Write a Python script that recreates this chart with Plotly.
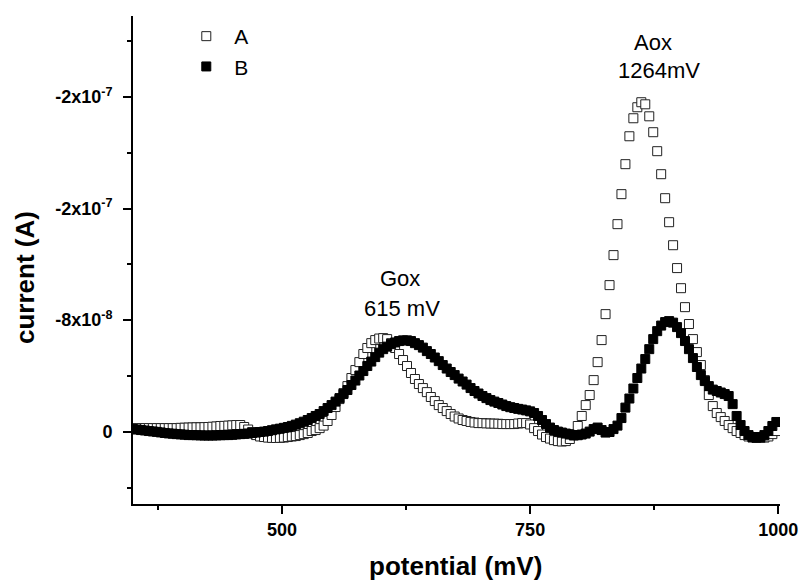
import plotly.graph_objects as go

# ---- data (current in units of 1e-8 A, potential in mV) ----
POT_START, POT_STOP, POT_STEP = 350, 1000, 4
potential_mv = list(range(POT_START, POT_STOP, POT_STEP))

current_a_1e8 = [
    -0.26, -0.26, -0.26, -0.26, -0.26, -0.26, -0.26, -0.26, -0.26, -0.26,
    -0.26, -0.26, -0.28, -0.29, -0.30, -0.31, -0.32, -0.32, -0.33, -0.34,
    -0.36, -0.38, -0.41, -0.42, -0.44, -0.46, -0.48, -0.48, -0.34, -0.16,
    0.02, 0.24, 0.34, 0.38, 0.42, 0.44, 0.45, 0.44, 0.42, 0.38,
    0.34, 0.31, 0.24, 0.17, 0.09, -0.05, -0.12, -0.26, -0.44, -0.77,
    -1.20, -1.77, -2.34, -2.77, -3.27, -3.85, -4.42, -4.99, -5.57, -6.00,
    -6.35, -6.57, -6.68, -6.71, -6.64, -6.35, -6.00, -5.57, -5.14, -4.71,
    -4.21, -3.78, -3.42, -3.13, -2.84, -2.49, -2.20, -1.91, -1.70, -1.48,
    -1.27, -1.09, -0.95, -0.84, -0.77, -0.70, -0.66, -0.62, -0.62, -0.60,
    -0.59, -0.58, -0.57, -0.55, -0.55, -0.55, -0.55, -0.59, -0.62, -0.62,
    -0.52, -0.26, -0.05, 0.20, 0.38, 0.49, 0.60, 0.67, 0.70, 0.67,
    0.52, 0.17, -0.41, -1.13, -1.91, -2.63, -3.70, -4.99, -6.57, -8.43,
    -10.51, -12.66, -14.88, -17.03, -19.18, -21.18, -22.47, -23.26, -23.62, -23.47,
    -22.61, -21.47, -20.11, -18.46, -16.74, -15.02, -13.37, -11.73, -10.29, -8.93,
    -7.72, -6.64, -5.71, -4.78, -3.70, -2.63, -1.84, -1.34, -1.05, -0.77,
    -0.48, -0.26, -0.05, 0.09, 0.24, 0.34, 0.42, 0.45, 0.45, 0.42,
    0.34, 0.17, -0.05,
]

current_b_1e8 = [
    -0.19, -0.16, -0.12, -0.09, -0.05, -0.02, 0.01, 0.05, 0.09, 0.12,
    0.14, 0.17, 0.19, 0.21, 0.24, 0.24, 0.25, 0.26, 0.27, 0.27,
    0.27, 0.26, 0.25, 0.24, 0.24, 0.22, 0.19, 0.17, 0.15, 0.13,
    0.09, 0.06, 0.02, -0.01, -0.05, -0.11, -0.17, -0.22, -0.28, -0.34,
    -0.42, -0.51, -0.61, -0.72, -0.84, -0.98, -1.13, -1.27, -1.48, -1.70,
    -1.91, -2.16, -2.41, -2.70, -2.99, -3.35, -3.67, -4.03, -4.35, -4.71,
    -5.03, -5.35, -5.67, -5.92, -6.10, -6.28, -6.40, -6.50, -6.55, -6.55,
    -6.50, -6.35, -6.21, -6.03, -5.78, -5.57, -5.32, -5.06, -4.78, -4.53,
    -4.28, -4.06, -3.81, -3.60, -3.38, -3.13, -2.92, -2.74, -2.56, -2.41,
    -2.27, -2.16, -2.06, -1.95, -1.84, -1.76, -1.70, -1.64, -1.59, -1.53,
    -1.46, -1.34, -1.13, -0.84, -0.55, -0.30, -0.12, -0.01, 0.06, 0.13,
    0.20, 0.27, 0.25, 0.20, 0.13, -0.01, -0.19, -0.30, -0.12, 0.06,
    0.02, -0.19, -0.44, -0.98, -1.73, -2.38, -3.10, -3.85, -4.53, -5.21,
    -5.92, -6.64, -7.21, -7.61, -7.86, -7.93, -7.82, -7.50, -7.07, -6.50,
    -5.92, -5.28, -4.64, -4.06, -3.63, -3.27, -3.02, -2.92, -2.81, -2.70,
    -2.56, -1.98, -1.13, -0.48, -0.05, 0.24, 0.38, 0.42, 0.38, 0.24,
    -0.05, -0.41, -0.70,
]

UNIT = 1e-8
current_a = [v * UNIT for v in current_a_1e8]
current_b = [v * UNIT for v in current_b_1e8]

series_names = ["A", "B"]

y_tickvals = [-2.4e-7, -1.6e-7, -8e-8, 0]
y_ticktext = ["-2x10<sup>-7</sup>", "-2x10<sup>-7</sup>", "-8x10<sup>-8</sup>", "0"]
y_minor_vals = [4e-8, -4e-8, -1.2e-7, -2.0e-7, -2.8e-7]
x_tickvals = [500, 750, 1000]
x_ticktext = ["500", "750", "1000"]
x_minor_vals = [375, 625, 875]

peak_labels = [
    # (x mV, y A, text)
    (619, -11.0e-8, "Gox"),
    (621, -8.85e-8, "615 mV"),
    (874, -27.9e-8, "Aox"),
    (880, -25.9e-8, "1264mV"),
]

FONT = "Liberation Sans, Arial, sans-serif"

fig = go.Figure()
fig.add_trace(go.Scatter(
    x=potential_mv, y=current_a, mode="markers", name=series_names[0],
    marker=dict(symbol="square", size=9, color="white",
                line=dict(color="#222222", width=1)),
))
fig.add_trace(go.Scatter(
    x=potential_mv, y=current_b, mode="markers", name=series_names[1],
    marker=dict(symbol="square", size=9, color="black",
                line=dict(color="black", width=1)),
))

for x, y, t in peak_labels:
    fig.add_annotation(x=x, y=y, text=t, showarrow=False,
                       font=dict(family=FONT, size=22, color="black"),
                       xanchor="center", yanchor="middle")

# axis titles as annotations for exact placement
fig.add_annotation(xref="paper", yref="paper", x=-0.167, y=0.465,
                   text="current (A)", textangle=-90, showarrow=False,
                   font=dict(family=FONT, size=26, color="black", weight="bold"),
                   xanchor="center", yanchor="middle")
fig.add_annotation(xref="paper", yref="paper", x=0.498, y=-0.127,
                   text="potential (mV)", showarrow=False,
                   font=dict(family=FONT, size=26, color="black", weight="bold"),
                   xanchor="center", yanchor="middle")

axis_common = dict(
    showline=True, linecolor="black", linewidth=2, mirror=False,
    showgrid=False, zeroline=False, ticks="outside", ticklen=8, tickwidth=2,
    tickcolor="black",
    tickfont=dict(family=FONT, size=18, color="black", weight="bold"),
)

fig.update_layout(
    width=810, height=581,
    margin=dict(l=133, r=20, t=16, b=77),
    paper_bgcolor="white", plot_bgcolor="white",
    font=dict(family=FONT, color="black"),
    xaxis=dict(range=[350, 1001.7], tickmode="array", tickvals=x_tickvals,
               ticktext=x_ticktext,
               minor=dict(tickvals=x_minor_vals, ticks="outside", ticklen=4,
                          tickwidth=2, tickcolor="black"),
               **axis_common),
    yaxis=dict(range=[5.18e-8, -2.98e-7], tickmode="array", tickvals=y_tickvals,
               ticktext=y_ticktext, ticklabelstandoff=7,
               minor=dict(tickvals=y_minor_vals, ticks="outside", ticklen=4,
                          tickwidth=2, tickcolor="black"),
               **axis_common),
    legend=dict(x=0.07, y=1.0, xanchor="left", yanchor="top",
                bgcolor="rgba(0,0,0,0)", itemwidth=46,
                font=dict(family=FONT, size=21, color="black"),
                tracegroupgap=0),
    showlegend=True,
)

fig.write_html("out.html", config={"displayModeBar": False},
               post_script="document.body.style.margin='0';document.body.style.overflow='hidden';")
